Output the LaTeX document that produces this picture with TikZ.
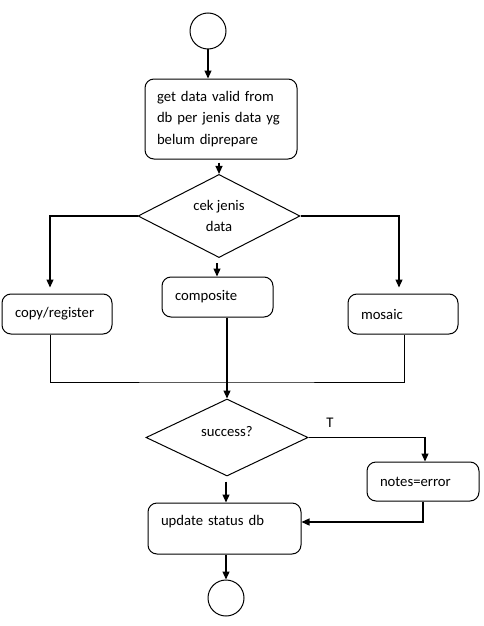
\documentclass[tikz,border=0pt]{standalone}
\usepackage{fontspec}
\setmainfont{Carlito}
\usetikzlibrary{shapes.geometric,arrows.meta}
\begin{document}
\begin{tikzpicture}[x=1pt,y=-1pt,
  every node/.style={font=\fontsize{14.7}{21.6}\selectfont},
  box/.style={draw,line width=1pt,rounded corners=9pt,inner xsep=13pt,align=left},
  dec/.style={draw,line width=1pt,diamond,inner sep=0pt,align=center},
  term/.style={draw,line width=1pt,circle,minimum size=36pt,inner sep=0pt},
  flow/.style={line width=1.2pt,-{Triangle[length=8pt,width=7pt]}},
  plain/.style={line width=1pt}]
\useasboundingbox (0,0) rectangle (484,626);
\node[term] (start) at (208,31) {};
\node[box,minimum width=152pt,minimum height=80pt,text width=128pt,inner xsep=12pt] (get) at (221,119)
  {get data valid from\\db per jenis data yg\\belum diprepare};
\node[dec,minimum width=162pt,minimum height=76pt] (cek) at (219,216) {cek jenis\\data};
\node[box,minimum width=110pt,minimum height=40pt,text width=84pt] (copy) at (57,314) {copy/register};
\node[box,minimum width=111pt,minimum height=40pt,text width=85pt] (comp) at (217.5,297) {composite};
\node[box,minimum width=110pt,minimum height=40pt,text width=84pt] (mos) at (403,314) {mosaic};
\node[dec,minimum width=162pt,minimum height=77pt,text depth=12pt] (succ) at (227,437.5) {success?};
\node[box,minimum width=112pt,minimum height=39pt,text width=86pt] (notes) at (423,481.5) {notes=error};
\node[box,minimum width=153pt,minimum height=51pt,text width=127pt,text depth=16pt] (upd) at (224.5,528.5) {update status db};
\node[term] (end) at (226,598) {};
\node (t) at (330,423) {T};
\coordinate (join) at (226,382);
% connectors
\draw[flow] (start.south) -- (start.south |- get.north);
\draw[flow,shorten <=3pt] (cek.north |- get.south) -- (cek.north);
\draw[flow,shorten >=6pt] (cek.west) -| ([xshift=-7pt]copy.north);
\draw[flow,shorten >=6pt] (cek.east) -| ([xshift=-4pt]mos.north);
\draw[flow,shorten <=5pt] ([xshift=-2pt]cek.south) -- ([xshift=-2pt]cek.south |- comp.north);
\draw[plain] ([xshift=-7pt]copy.south) |- (join) -| ([xshift=1pt]mos.south);
\draw[flow] (succ.north |- comp.south) -- (succ.north);
\draw[flow] (succ.east) -| ([xshift=2pt]notes.north);
\draw[flow,shorten <=5pt] ([xshift=-1pt]succ.south) -- ([xshift=-1pt]succ.south |- upd.north);
\draw[flow] (notes.south) |- ([yshift=6.5pt]upd.east);
\draw[flow] ([xshift=1.5pt]upd.south) -- ([xshift=1.5pt]upd.south |- end.north);
\end{tikzpicture}
\end{document}
